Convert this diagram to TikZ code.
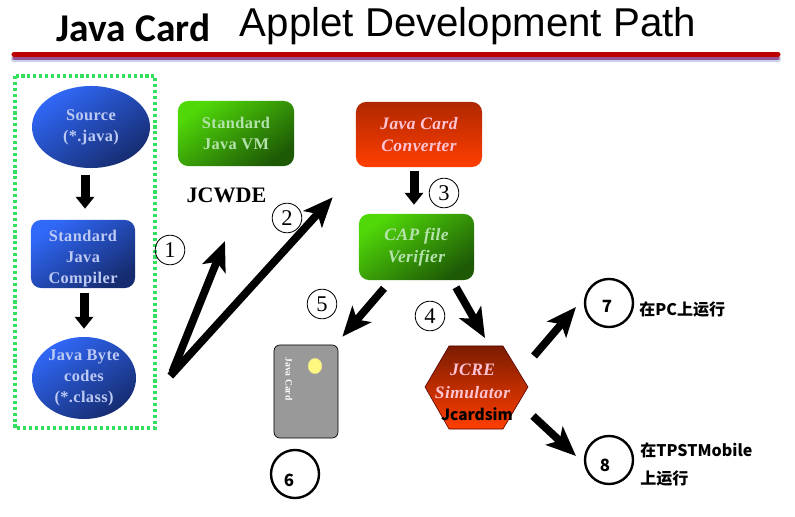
\documentclass[tikz,border=0pt]{standalone}
\usepackage{fontspec}
\setmainfont{Liberation Serif}
\newfontfamily\arialfont{Liberation Sans}
\newfontfamily\titlefont{Carlito}
\newfontfamily\boxfont[LetterSpace=2.5]{Liberation Serif}
\newfontfamily\cjk{Noto Sans CJK SC}
\usetikzlibrary{arrows.meta,shapes.geometric}
\definecolor{bluehi}{HTML}{3068F8}
\definecolor{bluelo}{HTML}{162C70}
\definecolor{greenhi}{HTML}{50D808}
\definecolor{greenlo}{HTML}{1E5A06}
\definecolor{redhi}{HTML}{FF3E00}
\definecolor{redlo}{HTML}{B02800}
\definecolor{bluetxt}{HTML}{BCCAF4}
\definecolor{greentxt}{HTML}{B4E4AC}
\definecolor{redtxt}{HTML}{FFC4D4}
\tikzset{
	boxtext/.style={font=\boxfont\bfseries\fontsize{11.6}{15}\selectfont, align=center, inner sep=0pt},
	bluetext/.style={boxtext, text=bluetxt},
	greentext/.style={boxtext, text=greentxt},
	redtext/.style={boxtext, text=redtxt, font=\boxfont\bfseries\itshape\fontsize{12.4}{15.5}\selectfont},
	bluefill/.style={top color=bluehi, bottom color=bluelo, shading angle=35},
	greenfill/.style={top color=greenhi, bottom color=greenlo, shading angle=35},
	redfill/.style={top color=redlo, bottom color=redhi},
	roundbox/.style={rectangle, rounded corners=.25cm, inner sep=0pt},
	oval/.style={ellipse, inner sep=0pt, bluefill},
	numcircle/.style={circle, draw=black, line width=.6pt, minimum size=.74cm, inner sep=0pt, font=\fontsize{16}{16}\selectfont},
	bigcircle/.style={circle, draw=black, line width=1.7pt, minimum size=1.2cm, inner sep=0pt},
	boldlabel/.style={font=\cjk\bfseries\fontsize{11.4}{14}\selectfont, inner sep=0pt, anchor=west},
	bolddigit/.style={font=\cjk\bfseries\fontsize{12}{12}\selectfont, inner sep=0pt},
	downarrow/.style={line width=6.4pt, -{Triangle[length=8.5pt, width=13pt]}, black},
	slantarrow/.style={line width=5.5pt, -{Stealth[length=21pt, width=17.5pt, inset=5pt]}, black},
}
\begin{document}
\begin{tikzpicture}[x=.025cm, y=-.025cm]
	\useasboundingbox (0,0) rectangle (795,517);
	% title
	\node[font=\titlefont\bfseries\fontsize{28}{28}\selectfont, inner sep=0pt] (javacard) at (133.5,28) {Java Card};
	\node[font=\arialfont\fontsize{28.6}{29}\selectfont, inner sep=0pt] (apptitle) at (468,26) {Applet Development Path};
	\draw[color=blue!30!gray!30, line width=4.5pt, line cap=round] (14,59) -- (778,59);
	\draw[color=violet!60!gray!85, line width=2.2pt, line cap=round] (14,58) -- (778,58);
	\draw[color=red!75!black, line width=3.6pt, line cap=round] (14,54.5) -- (778,54.5);
	% left group
	\draw[color=green!75!cyan!85!black!80, line width=2.2pt, dash pattern=on 2.2pt off 2pt] (15,76) rectangle (155,428);
	\node[oval, minimum width=2.95cm, minimum height=2.05cm, label={[bluetext]center:{Source\\(*.java)}}] (source) at (91,127) {};
	\node[roundbox, bluefill, minimum width=2.6cm, minimum height=1.7cm, label={[bluetext,yshift=-3pt]center:{Standard\\Java\\Compiler}}] (compiler) at (83,254) {};
	\node[oval, minimum width=2.6cm, minimum height=2.05cm, label={[bluetext]center:{Java Byte\\codes\\(*.class)}}] (bytecodes) at (84,378) {};
	% green and red boxes
	\node[roundbox, greenfill, minimum width=2.9cm, minimum height=1.625cm, greentext] (javavm) at (236,133.5) {Standard\\Java VM};
	\node[font=\bfseries\fontsize{15.7}{16}\selectfont, inner sep=0pt] (jcwde) at (226.5,195) {JCWDE};
	\node[roundbox, redfill, minimum width=3.15cm, minimum height=1.625cm, redtext] (converter) at (419,134.5) {Java Card\\Converter};
	\node[roundbox, greenfill, minimum width=2.875cm, minimum height=1.65cm, greentext, font=\boxfont\bfseries\itshape\fontsize{12.4}{15.5}\selectfont] (verifier) at (416.5,247) {CAP file\\Verifier};
	% card
	\node[rectangle, rounded corners=.15cm, draw=black, fill=black!40, line width=.5pt, minimum width=1.6cm, minimum height=2.325cm, inner sep=0pt] (card) at (306,391.5) {};
	\node[ellipse, fill=yellow!50!white, draw=yellow!60!gray!60, minimum width=.34cm, minimum height=.38cm, inner sep=0pt] (chip) at (315,366) {};
	\node[rotate=-90, text=white, font=\bfseries\fontsize{6.8}{7}\selectfont, inner sep=0pt] (cardname) at (289,379) {Java Card};
	% simulator
	\draw[draw=black!70!red, line width=.4pt, top color=redlo!70!black, bottom color=redhi] (449,346) -- (503,346) -- (528,387) -- (503,429) -- (449,429) -- (425,387) -- cycle;
	\node[redtext] (simulator) at (472.5,381) {JCRE\\[1pt]Simulator};
	\node[font=\cjk\bfseries\fontsize{11}{11}\selectfont, inner sep=0pt] (jcardsim) at (477,414) {Jcardsim};
	% numbers
	\node[numcircle] (one) at (170,250) {1};
	\node[numcircle] (two) at (287,218) {2};
	\node[numcircle] (three) at (444,193) {3};
	\node[numcircle] (four) at (430,316) {4};
	\node[numcircle] (five) at (322,304) {5};
	\node[bigcircle] (six) at (295,474) {};
	\node[bolddigit] (sixtext) at (289,480) {6};
	\node[bigcircle] (seven) at (609,303) {};
	\node[bolddigit] (seventext) at (607,306) {7};
	\node[bigcircle] (eight) at (609,460) {};
	\node[bolddigit] (eighttext) at (605,465) {8};
	\node[boldlabel] (pclabel) at (639,310) {在PC上运行};
	\node[boldlabel] (mobilelabel) at (640,450) {在TPSTMobile};
	\node[boldlabel] (mobileline) at (640,479) {上运行};
	% arrows
	\draw[downarrow] ([shift={(-6,7)}]source.south) -- ([shift={(2,-11)}]compiler.north);
	\draw[downarrow] ([shift={(1,5)}]compiler.south) -- ([shift={(0,-8)}]bytecodes.north);
	\draw[downarrow] ([shift={(-5,4)}]converter.south) -- ([shift={(-2.5,-9)}]verifier.north);
	\draw[slantarrow] ([shift={(36,-6)}]bytecodes.east) -- ([shift={(-1.5,46)}]jcwde.center);
	\draw[slantarrow] ([shift={(34,-2)}]bytecodes.east) -- ([shift={(-23,30)}]converter.south west);
	\draw[slantarrow] ([shift={(-32.5,8)}]verifier.south) -- ([shift={(4,-8)}]card.north east);
	\draw[slantarrow] ([shift={(39.5,7)}]verifier.south) -- ([shift={(12.5,-43)}]simulator.center);
	\draw[slantarrow] ([shift={(61.5,-25)}]simulator.center) -- ([shift={(-33,4)}]seven.center);
	\draw[slantarrow] ([shift={(60.5,35)}]simulator.center) -- ([shift={(-33,-4)}]eight.center);
\end{tikzpicture}
\end{document}
